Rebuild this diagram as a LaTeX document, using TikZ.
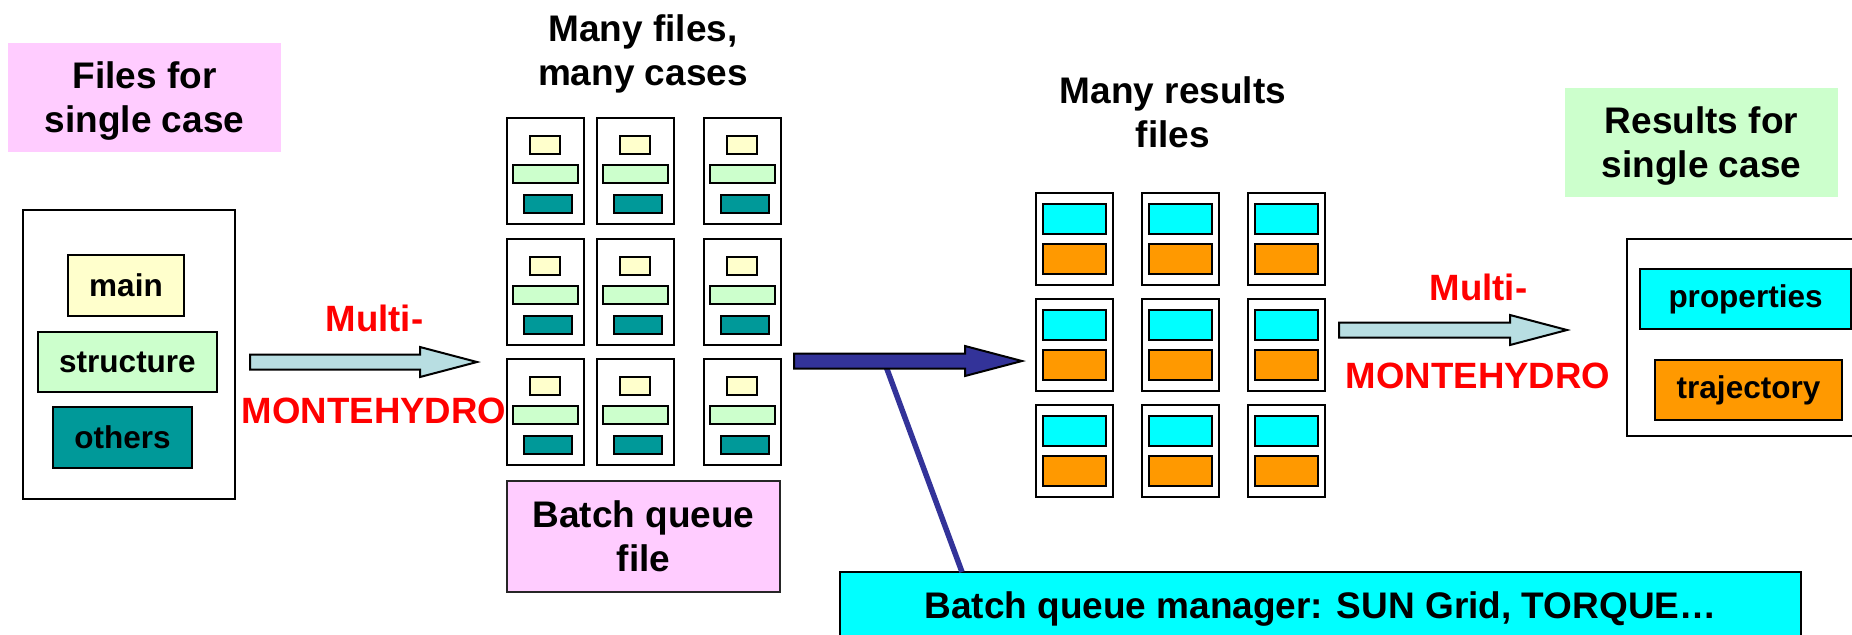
\documentclass[tikz,border=0pt]{standalone}
\usepackage{fontspec}
\setmainfont{Liberation Sans}
\usetikzlibrary{calc}

\definecolor{pinkbg}{HTML}{FFCCFF}
\definecolor{mintbg}{HTML}{CCFFCC}
\definecolor{creambg}{HTML}{FFFFCC}
\definecolor{tealbg}{HTML}{009999}
\definecolor{cyanbg}{HTML}{00FFFF}
\definecolor{orangebg}{HTML}{FF9900}
\definecolor{paleblue}{HTML}{B8DEE2}
\definecolor{navy}{HTML}{333399}
\definecolor{redtext}{HTML}{FF0000}

\newcommand\bigfont{\fontsize{18.5}{22}\selectfont\bfseries}
\newcommand\smallfont{\fontsize{15.75}{19}\selectfont\bfseries}

\tikzset{
  area/.style={inner sep=0pt, outer sep=0pt, align=center},
  titlebox/.style={area, font=\bigfont, text depth=0pt},
  frame/.style={area, draw=black, line width=1pt, fill=white},
  tile/.style={area, draw=black, line width=1pt},
  caption/.style={inner sep=0pt, align=center, font=\bigfont},
  redlabel/.style={inner sep=0pt, anchor=base, text=redtext,
    font=\fontsize{18.3}{22}\selectfont\bfseries},
  blockarrow/.style={draw=black, line width=1pt, line join=miter},
  queuelink/.style={navy, line width=2.75pt}
}

% rectangle node given by two corners: style, name, x1, y1, x2, y2, text
\newcommand{\boxnode}[7]{%
  \node[#1, minimum width={(#5-(#3))*0.5pt}, minimum height={(#6-(#4))*0.5pt}]
    (#2) at ({((#3)+(#5))/2},{((#4)+(#6))/2}) {#7};}

% block arrow from a start point to its tip: style, start, tip
\newcommand{\blockarr}[3]{%
  \draw[blockarrow, #1]
    ($(#2)+(0,-7.5)$) -- ($(#3)+(-57,-7.5)$) -- ($(#3)+(-57,-15)$) --
    (#3) -- ($(#3)+(-57,15)$) -- ($(#3)+(-57,7.5)$) -- ($(#2)+(0,7.5)$) -- cycle;}

\begin{document}
\begin{tikzpicture}[x=0.5pt,y=-0.5pt]
\useasboundingbox (0,0) rectangle (1852,634);
\clip (0,0) rectangle (1852,634);

% ---- input files of a single case
\boxnode{titlebox, fill=pinkbg}{intitle}{8}{43}{281}{152}{Files for\\single case}
\boxnode{frame}{infiles}{23}{210}{235}{499}{}
\boxnode{tile, fill=creambg, font=\smallfont}{main}{68}{255}{184}{316}{main}
\boxnode{tile, fill=mintbg, font=\smallfont}{structure}{38}{332}{217}{392}{structure}
\boxnode{tile, fill=tealbg, font=\smallfont}{others}{53}{407}{192}{468}{others}

% ---- many cases, each with its own set of files
\node[caption] (casestitle) at (643,54) {Many files,\\many cases};
\foreach \c/\x in {1/507,2/597,3/704}{
  \foreach \r/\y in {1/118,2/239,3/359}{
    \boxnode{frame}{case-\r-\c}{\x}{\y}{\x+77}{\y+106}{}
    \boxnode{tile, fill=creambg}{case-\r-\c-main}{\x+23}{\y+18}{\x+53}{\y+36}{}
    \boxnode{tile, fill=mintbg}{case-\r-\c-struct}{\x+6}{\y+47}{\x+71}{\y+65}{}
    \boxnode{tile, fill=tealbg}{case-\r-\c-other}{\x+17}{\y+77}{\x+65}{\y+95}{}
  }
}
\boxnode{area, draw=black!85, line width=0.9pt, fill=pinkbg, font=\bigfont}{queuefile}{507}{481}{780}{592}{Batch queue\\file}

% ---- many result files
\node[caption] (restitle) at (1173,112) {Many results\\files};
\foreach \c/\x in {1/1036,2/1142,3/1248}{
  \foreach \r/\y in {1/193,2/299,3/405}{
    \boxnode{frame}{res-\r-\c}{\x}{\y}{\x+77}{\y+92}{}
    \boxnode{tile, fill=cyanbg}{res-\r-\c-prop}{\x+7}{\y+11}{\x+70}{\y+41}{}
    \boxnode{tile, fill=orangebg}{res-\r-\c-traj}{\x+7}{\y+51}{\x+70}{\y+81}{}
  }
}

% ---- results of a single case
\boxnode{titlebox, fill=mintbg}{outtitle}{1565}{88}{1838}{197}{Results for\\single case}
\boxnode{frame}{outfiles}{1627}{239}{1880}{436}{}
\boxnode{tile, fill=cyanbg, font=\smallfont}{properties}{1640}{269}{1851}{329}{properties}
\boxnode{tile, fill=orangebg, font=\smallfont}{trajectory}{1655}{360}{1842}{420}{trajectory}

% ---- batch queue manager
\boxnode{area, draw=black, line width=1pt, fill=cyanbg, font=\bigfont}{manager}{840}{572}{1801}{645}{Batch queue manager: SUN Grid, TORQUE…}

% ---- arrows
\coordinate (a1s) at (250,362);  \coordinate (a1e) at (477,362);
\coordinate (a2s) at (794,361);  \coordinate (a2e) at (1022,361);
\coordinate (a3s) at (1339,330); \coordinate (a3e) at (1567,330);
\coordinate (qtap) at (884,361);
\coordinate (mtap) at ($(manager.north west)+(122,0)$);

\draw[queuelink] (qtap) -- (mtap);
\blockarr{fill=paleblue}{a1s}{a1e}
\blockarr{fill=navy}{a2s}{a2e}
\blockarr{fill=paleblue}{a3s}{a3e}

\node[redlabel] (split-a) at (374.5,331) {Multi-};
\node[redlabel] (split-b) at (374,423) {MONTEHYDRO};
\node[redlabel] (merge-a) at (1478.5,300) {Multi-};
\node[redlabel] (merge-b) at (1478,388) {MONTEHYDRO};
\end{tikzpicture}
\end{document}
